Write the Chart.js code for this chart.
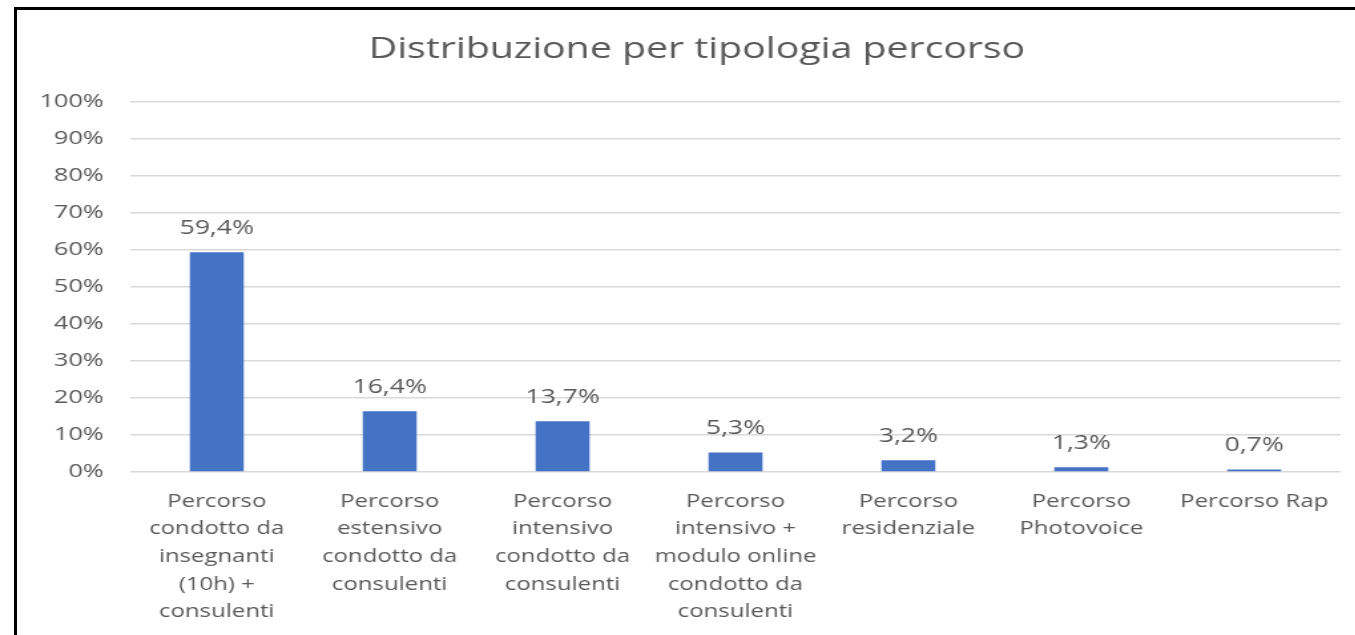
<!DOCTYPE html>
<html>
<head>
<meta charset="utf-8">
<script src="https://cdn.jsdelivr.net/npm/chart.js@4"></script>
<style>
  html, body { margin: 0; padding: 0; background: #fff; overflow: hidden; }
  #frame {
    position: absolute; left: 14px; top: 7px; width: 1400px; height: 700px;
    border-left: 3px solid #000; border-top: 3px solid #000; pointer-events: none;
  }
  #wrap { position: absolute; left: 0; top: 0; transform-origin: 0 0; }
</style>
</head>
<body>
<div id="wrap"><canvas id="chart"></canvas></div>
<div id="frame"></div>
<script>
// the source picture is stretched sideways, so the chart is drawn narrower and scaled
const SX = 1.33;
const W = Math.round(1355 / SX);
const H = 635;

const chartTitle = "Distribuzione per tipologia percorso";
const categories = [
  ["Percorso", "condotto da", "insegnanti", "(10h) +", "consulenti"],
  ["Percorso", "estensivo", "condotto da", "consulenti"],
  ["Percorso", "intensivo", "condotto da", "consulenti"],
  ["Percorso", "intensivo +", "modulo online", "condotto da", "consulenti"],
  ["Percorso", "residenziale"],
  ["Percorso", "Photovoice"],
  ["Percorso Rap"]
];
const shares = [59.4, 16.4, 13.7, 5.3, 3.2, 1.3, 0.7];
const yTicks = [0, 10, 20, 30, 40, 50, 60, 70, 80, 90, 100];

const grey = "#595959";
const font = "'Open Sans', sans-serif";

const canvas = document.getElementById("chart");
canvas.width = W;
canvas.height = H;
canvas.style.width = W + "px";
canvas.style.height = H + "px";
document.getElementById("wrap").style.transform = "scaleX(" + SX + ")";

// title sits a bit left of the plot centre, so it is drawn here and not by the title plugin
const titleText = {
  id: "titleText",
  afterDraw(chart) {
    const ctx = chart.ctx;
    ctx.save();
    ctx.font = "29.5px " + font;
    ctx.fillStyle = grey;
    ctx.textAlign = "center";
    ctx.textBaseline = "middle";
    ctx.fillText(chartTitle, 697 / SX, 50);
    ctx.restore();
  }
};

// value labels above the bars, Italian decimal comma
const barLabels = {
  id: "barLabels",
  afterDatasetsDraw(chart) {
    const ctx = chart.ctx;
    const meta = chart.getDatasetMeta(0);
    ctx.save();
    ctx.font = "20px " + font;
    ctx.fillStyle = grey;
    ctx.textAlign = "center";
    ctx.textBaseline = "middle";
    meta.data.forEach((bar, i) => {
      const txt = shares[i].toFixed(1).replace(".", ",") + "%";
      ctx.fillText(txt, bar.x, bar.y - 24);
    });
    ctx.restore();
  }
};

new Chart(canvas, {
  type: "bar",
  data: {
    labels: categories,
    datasets: [{
      data: shares,
      backgroundColor: "#4472C4",
      borderWidth: 0,
      categoryPercentage: 1,
      barPercentage: 0.312
    }]
  },
  options: {
    responsive: false,
    animation: false,
    layout: { padding: { left: 0, right: 11, top: 102, bottom: 0 } },
    plugins: {
      legend: { display: false },
      tooltip: { enabled: false },
      title: { display: false }
    },
    scales: {
      x: {
        grid: { display: false, drawTicks: false },
        border: { display: false },
        ticks: {
          color: grey,
          font: { family: font, size: 18, lineHeight: 1.53 },
          padding: 16,
          maxRotation: 0,
          autoSkip: false
        },
        afterFit(scale) { scale.height = H - 472; }
      },
      y: {
        min: 0,
        max: 100,
        afterBuildTicks(scale) { scale.ticks = yTicks.map(v => ({ value: v })); },
        grid: { color: "#d9d9d9", lineWidth: 1.5, drawTicks: false },
        border: { display: false },
        ticks: {
          color: grey,
          font: { family: font, size: 19 },
          padding: 20,
          callback: v => v + "%"
        },
        afterFit(scale) { scale.width = 98; }
      }
    }
  },
  plugins: [barLabels, titleText]
});
</script>
</body>
</html>
